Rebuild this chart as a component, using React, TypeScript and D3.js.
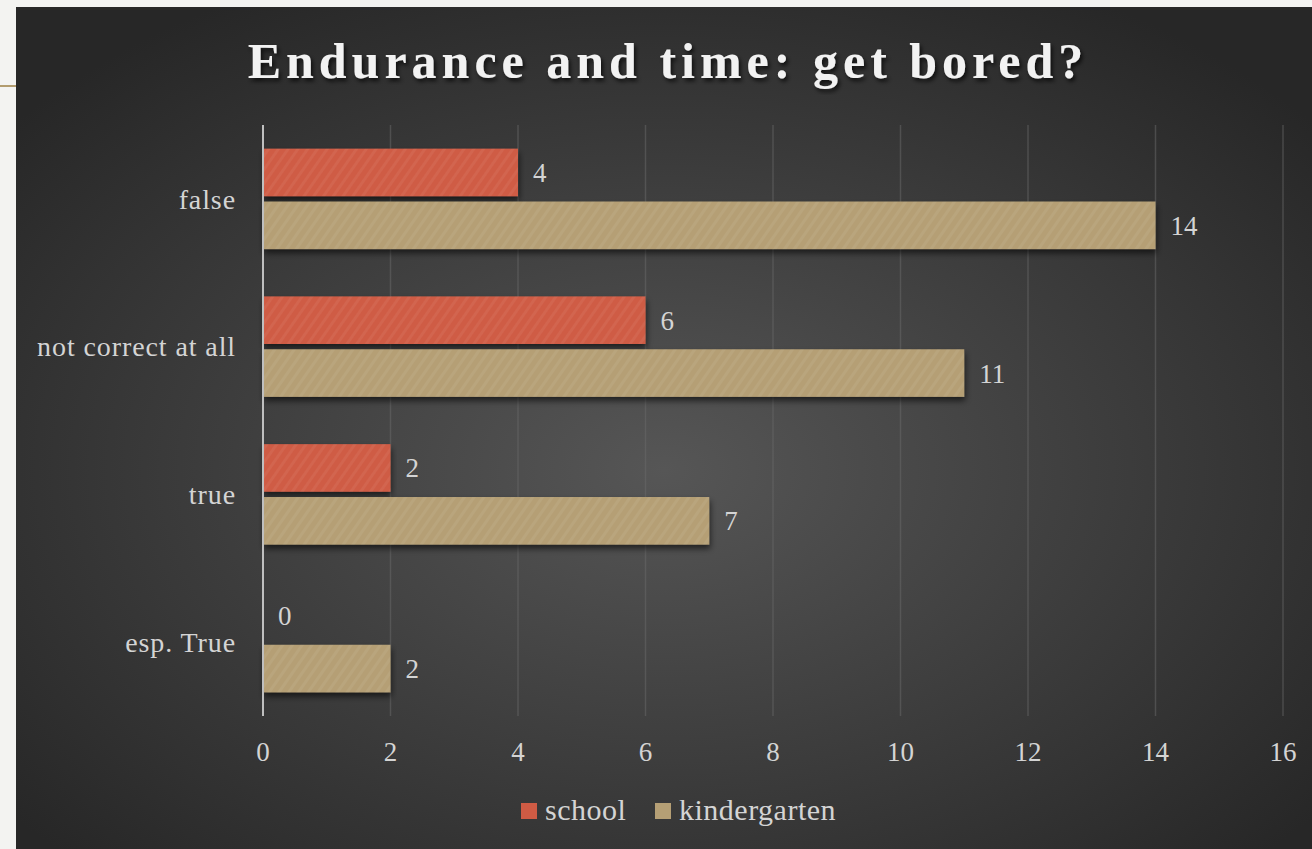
import * as d3 from 'd3';
import React, { useRef, useEffect } from 'react';

const categories = ['false', 'not correct at all', 'true', 'esp. True'];
const seriesNames = ['school', 'kindergarten'];
const schoolValues = [4, 6, 2, 0];
const kindergartenValues = [14, 11, 7, 2];
const xTicks = [0, 2, 4, 6, 8, 10, 12, 14, 16];
const colors = ['#cf5b44', '#b59f75'];

const W = 1312;
const H = 849;
const FONT = '"Liberation Serif", "DejaVu Serif", serif';

function App() {
    const ref = useRef(null);

    useEffect(() => {
        const svg = d3.select(ref.current);
        svg.selectAll('*').remove();

        const defs = svg.append('defs');
        const bg = defs.append('radialGradient').attr('id', 'bg')
            .attr('cx', '50%').attr('cy', '55%').attr('r', '65%');
        bg.append('stop').attr('offset', '0%').attr('stop-color', '#565656');
        bg.append('stop').attr('offset', '100%').attr('stop-color', '#272727');

        const shadow = defs.append('filter').attr('id', 'shadow')
            .attr('x', '-5%').attr('y', '-20%').attr('width', '110%').attr('height', '160%');
        shadow.append('feDropShadow').attr('dx', 1).attr('dy', 4).attr('stdDeviation', 3)
            .attr('flood-color', '#000').attr('flood-opacity', 0.6);

        const tshadow = defs.append('filter').attr('id', 'tshadow');
        tshadow.append('feDropShadow').attr('dx', 2).attr('dy', 3).attr('stdDeviation', 2)
            .attr('flood-color', '#000').attr('flood-opacity', 0.7);

        colors.forEach((c, i) => {
            const p = defs.append('pattern').attr('id', 'hatch' + i)
                .attr('patternUnits', 'userSpaceOnUse').attr('width', 8).attr('height', 8)
                .attr('patternTransform', 'rotate(35)');
            p.append('rect').attr('width', 8).attr('height', 8).attr('fill', c);
            p.append('rect').attr('width', 3).attr('height', 8).attr('fill', '#fff').attr('opacity', 0.06);
        });

        // page background + panel
        svg.append('rect').attr('width', W).attr('height', H).attr('fill', '#f3f3f1');
        svg.append('line').attr('x1', 0).attr('x2', 16).attr('y1', 86).attr('y2', 86)
            .attr('stroke', '#b29c6f').attr('stroke-width', 2);
        svg.append('rect').attr('x', 16).attr('y', 7).attr('width', W - 16).attr('height', H - 7)
            .attr('fill', 'url(#bg)');

        svg.append('text')
            .attr('x', 668).attr('y', 78)
            .attr('text-anchor', 'middle')
            .attr('font-family', FONT).attr('font-weight', 'bold')
            .attr('font-size', 50).attr('letter-spacing', 5)
            .attr('fill', '#f2f2f2').attr('filter', 'url(#tshadow)')
            .text('Endurance and time: get bored?');

        const left = 263, right = 1283, top = 125, bottom = 716;
        const x = d3.scaleLinear().domain([0, 16]).range([left, right]);
        const y = d3.scaleBand().domain(categories).range([top, bottom]).paddingInner(0.32).paddingOuter(0.16);
        const sub = d3.scaleBand().domain(seriesNames).range([0, y.bandwidth()]).paddingInner(0.1);

        svg.append('g').selectAll('line').data(xTicks.slice(1)).join('line')
            .attr('x1', d => x(d)).attr('x2', d => x(d))
            .attr('y1', top).attr('y2', bottom)
            .attr('stroke', '#6a6a6a').attr('stroke-opacity', 0.5).attr('stroke-width', 1.5);

        svg.append('g').selectAll('text').data(xTicks).join('text')
            .attr('x', d => x(d)).attr('y', 761)
            .attr('text-anchor', 'middle')
            .attr('font-family', FONT).attr('font-size', 27).attr('fill', '#d4d4d4')
            .text(d => d);

        svg.append('g').selectAll('text').data(categories).join('text')
            .attr('x', 236).attr('y', d => y(d) + y.bandwidth() / 2)
            .attr('dy', '0.35em')
            .attr('text-anchor', 'end')
            .attr('font-family', FONT).attr('font-size', 28).attr('letter-spacing', 0.9)
            .attr('fill', '#d4d4d4')
            .text(d => d);

        const series = [schoolValues, kindergartenValues];
        series.forEach((vals, si) => {
            const g = svg.append('g');
            const rows = categories.map((c, i) => ({ c, v: vals[i] }));
            g.selectAll('rect').data(rows.filter(d => d.v > 0)).join('rect')
                .attr('x', x(0)).attr('y', d => y(d.c) + sub(seriesNames[si]))
                .attr('width', d => x(d.v) - x(0)).attr('height', sub.bandwidth())
                .attr('fill', 'url(#hatch' + si + ')')
                .attr('filter', 'url(#shadow)');
            g.selectAll('text').data(rows).join('text')
                .attr('x', d => x(d.v) + 15)
                .attr('y', d => y(d.c) + sub(seriesNames[si]) + sub.bandwidth() / 2)
                .attr('dy', '0.35em')
                .attr('font-family', FONT).attr('font-size', 27).attr('fill', '#d4d4d4')
                .text(d => d.v);
        });

        // axis line at 0
        svg.append('line').attr('x1', x(0)).attr('x2', x(0)).attr('y1', top).attr('y2', bottom)
            .attr('stroke', '#bfbfbf').attr('stroke-width', 2);

        // legend
        const legend = svg.append('g');
        const lx = [521, 655];
        seriesNames.forEach((n, i) => {
            legend.append('rect').attr('x', lx[i]).attr('y', 803).attr('width', 16).attr('height', 16)
                .attr('fill', colors[i]);
            legend.append('text').attr('x', lx[i] + 24).attr('y', 820)
                .attr('font-family', FONT).attr('font-size', 30).attr('letter-spacing', 0.5)
                .attr('fill', '#d4d4d4')
                .text(n);
        });
    }, []);

    return (
        <div style={{ position: 'fixed', left: 0, top: 0, width: W, height: H }}>
            <svg ref={ref} width={W} height={H} style={{ display: 'block' }} />
        </div>
    );
}

export default App;
